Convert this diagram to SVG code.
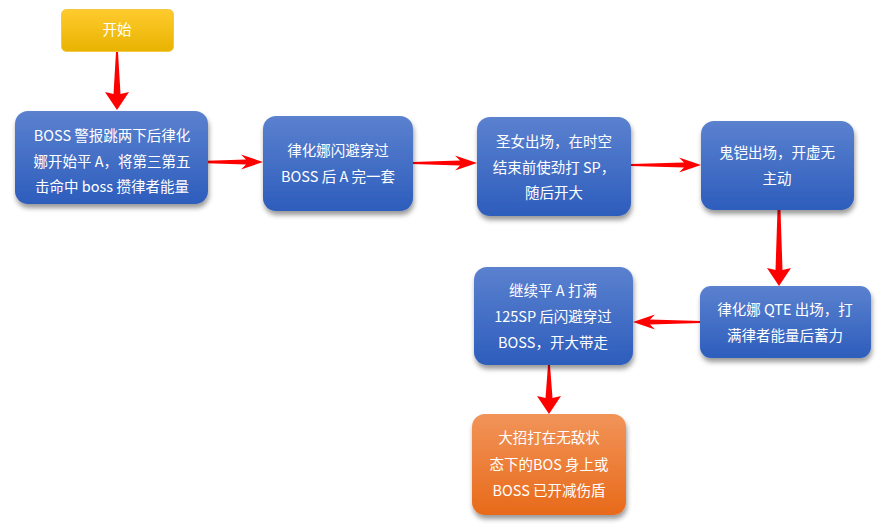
<svg xmlns="http://www.w3.org/2000/svg" width="879" height="528" viewBox="0 0 879 528">
<style>
text{font-family:"Noto Sans CJK SC","Noto Sans",sans-serif;font-size:14.5px;fill:#fff;text-anchor:middle}
.blue{fill:url(#gBlue);filter:url(#sh)}
.orange{fill:url(#gOrange);filter:url(#sh)}
.yellow{fill:url(#gYellow);stroke:#f5c842;stroke-width:1}
.arr{fill:#f00}
</style>
<defs>
<linearGradient id="gBlue" x1="0" y1="0" x2="0" y2="1"><stop offset="0" stop-color="#5b81cf"/><stop offset="1" stop-color="#2d5dbc"/></linearGradient>
<linearGradient id="gOrange" x1="0" y1="0" x2="0" y2="1"><stop offset="0" stop-color="#f19459"/><stop offset="1" stop-color="#e86a1a"/></linearGradient>
<linearGradient id="gYellow" x1="0" y1="0" x2="0" y2="1"><stop offset="0" stop-color="#ffcb2e"/><stop offset="1" stop-color="#e8b300"/></linearGradient>
<filter id="sh" x="-20%" y="-20%" width="140%" height="150%"><feDropShadow dx="1" dy="4" stdDeviation="2.5" flood-color="#000" flood-opacity="0.4"/></filter>
</defs>
<g id="connectors">
<path class="arr" d="M116,52 L118,52 L120.5,94 L129,92 L117,110 L105,92 L113.5,94 Z"/>
<path class="arr" d="M199,161 L246,159.5 L241,154.5 L263,162 L241,169.5 L246,164.5 L199,163 Z"/>
<path class="arr" d="M412,162 L460,160.5 L455,155.5 L477,163 L455,170.5 L460,165.5 L412,164 Z"/>
<path class="arr" d="M631,164 L684,162.5 L679,157.5 L701,165 L679,172.5 L684,167.5 L631,166 Z"/>
<path class="arr" d="M777.5,210 L780.5,210 L782.5,270 L791,268 L779,286 L767,268 L775.5,270 Z"/>
<path class="arr" d="M701,321 L650,319.5 L655,314.5 L633,322 L655,329.5 L650,324.5 L701,323 Z"/>
<path class="arr" d="M548,365 L550,365 L552.5,398 L561,396 L549,414 L537,396 L545.5,398 Z"/>
</g>
<g id="start">
<rect class="yellow" x="61.5" y="9.5" width="112" height="42" rx="5"/>
<text x="117" y="35">开始</text>
</g>
<g id="n1">
<rect class="blue" x="15" y="111" width="193" height="93" rx="13"/>
<text x="112" y="141">BOSS 警报跳两下后律化</text>
<text x="112" y="167">娜开始平 A，将第三第五</text>
<text x="112" y="192">击命中 boss 攒律者能量</text>
</g>
<g id="n2">
<rect class="blue" x="263" y="116" width="150" height="95" rx="13"/>
<text x="338" y="156">律化娜闪避穿过</text>
<text x="338" y="182">BOSS 后 A 完一套</text>
</g>
<g id="n3">
<rect class="blue" x="477" y="117" width="154" height="99" rx="13"/>
<text x="554" y="147">圣女出场，在时空</text>
<text x="554" y="173">结束前使劲打 SP，</text>
<text x="554" y="198">随后开大</text>
</g>
<g id="n4">
<rect class="blue" x="701" y="121" width="153" height="89" rx="13"/>
<text x="777" y="158">鬼铠出场，开虚无</text>
<text x="777" y="184">主动</text>
</g>
<g id="n5">
<rect class="blue" x="700" y="286" width="171" height="72" rx="11"/>
<text x="785" y="315">律化娜 QTE 出场，打</text>
<text x="785" y="341">满律者能量后蓄力</text>
</g>
<g id="n6">
<rect class="blue" x="474" y="267" width="159" height="98" rx="13"/>
<text x="553" y="296">继续平 A 打满</text>
<text x="553" y="322">125SP 后闪避穿过</text>
<text x="553" y="348">BOSS，开大带走</text>
</g>
<g id="n7">
<rect class="orange" x="472" y="414" width="154" height="101" rx="13"/>
<text x="549" y="443">大招打在无敌状</text>
<text x="549" y="470">态下的BOS 身上或</text>
<text x="549" y="496">BOSS 已开减伤盾</text>
</g>
</svg>
